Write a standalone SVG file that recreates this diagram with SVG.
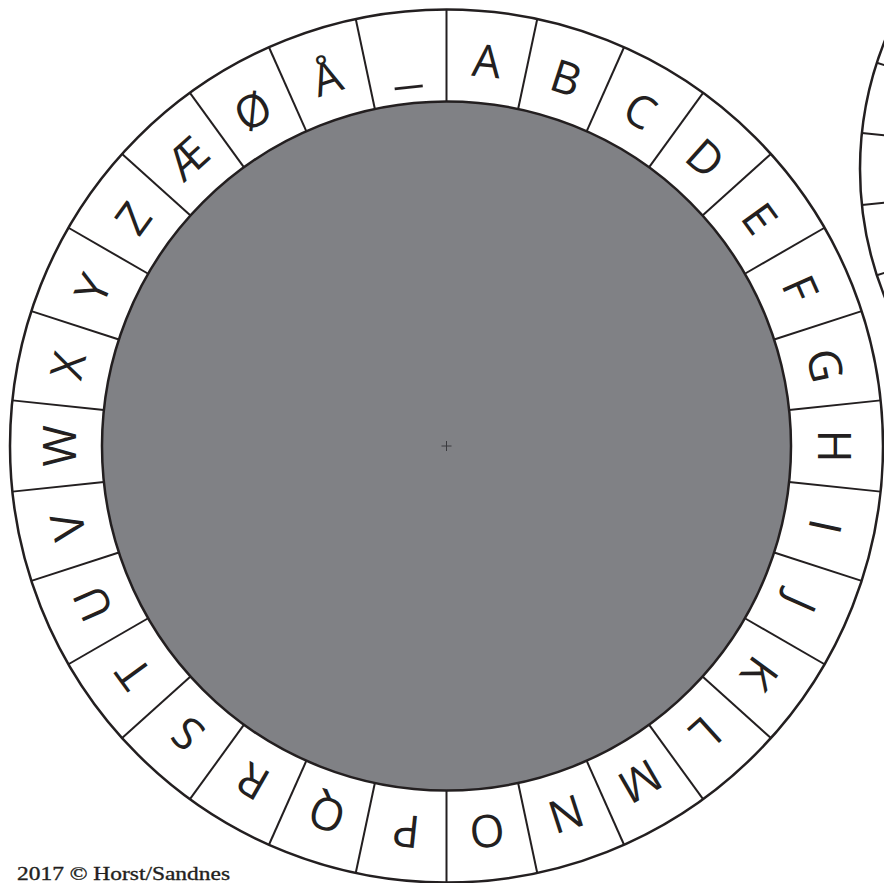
<svg xmlns="http://www.w3.org/2000/svg" width="884" height="883" viewBox="0 0 884 883">
<style>
.ring{fill:#ffffff;stroke:#231f20;stroke-width:2.5}
.disc{fill:#808185;stroke:#231f20;stroke-width:2.5}
.div{stroke:#231f20;stroke-width:2;fill:none}
.lt{font-family:"Open Sans","Noto Sans","DejaVu Sans",sans-serif;font-size:45px;fill:#231f20;text-anchor:middle}
.foot{font-family:"Liberation Serif","DejaVu Serif",serif;font-size:19px;fill:#231f20;stroke:#231f20;stroke-width:0.35}
</style>
<rect width="884" height="883" fill="#ffffff"/>
<g id="wheel2">
<circle cx="1204" cy="169" r="344" class="ring"/>
<g class="div">
<line x1="860" y1="169" x2="950" y2="169" transform="rotate(-6 1204 169)"/>
<line x1="860" y1="169" x2="950" y2="169" transform="rotate(6 1204 169)"/>
<line x1="860" y1="169" x2="950" y2="169" transform="rotate(-18 1204 169)"/>
<line x1="860" y1="169" x2="950" y2="169" transform="rotate(18 1204 169)"/>
</g>
</g>
<g id="wheel">
<circle cx="446.5" cy="446" r="436.5" class="ring"/>
<circle cx="446.5" cy="446" r="344.5" class="disc"/>
<g id="center-mark" stroke="#3a3a3e" stroke-width="1"><line x1="441.5" y1="446" x2="451.5" y2="446"/><line x1="446.5" y1="441" x2="446.5" y2="451"/></g>
</g>
<g id="dividers" class="div">
<line x1="446.5" y1="101.5" x2="446.5" y2="9.5" transform="rotate(0 446.5 446)"/>
<line x1="446.5" y1="101.5" x2="446.5" y2="9.5" transform="rotate(12 446.5 446)"/>
<line x1="446.5" y1="101.5" x2="446.5" y2="9.5" transform="rotate(24 446.5 446)"/>
<line x1="446.5" y1="101.5" x2="446.5" y2="9.5" transform="rotate(36 446.5 446)"/>
<line x1="446.5" y1="101.5" x2="446.5" y2="9.5" transform="rotate(48 446.5 446)"/>
<line x1="446.5" y1="101.5" x2="446.5" y2="9.5" transform="rotate(60 446.5 446)"/>
<line x1="446.5" y1="101.5" x2="446.5" y2="9.5" transform="rotate(72 446.5 446)"/>
<line x1="446.5" y1="101.5" x2="446.5" y2="9.5" transform="rotate(84 446.5 446)"/>
<line x1="446.5" y1="101.5" x2="446.5" y2="9.5" transform="rotate(96 446.5 446)"/>
<line x1="446.5" y1="101.5" x2="446.5" y2="9.5" transform="rotate(108 446.5 446)"/>
<line x1="446.5" y1="101.5" x2="446.5" y2="9.5" transform="rotate(120 446.5 446)"/>
<line x1="446.5" y1="101.5" x2="446.5" y2="9.5" transform="rotate(132 446.5 446)"/>
<line x1="446.5" y1="101.5" x2="446.5" y2="9.5" transform="rotate(144 446.5 446)"/>
<line x1="446.5" y1="101.5" x2="446.5" y2="9.5" transform="rotate(156 446.5 446)"/>
<line x1="446.5" y1="101.5" x2="446.5" y2="9.5" transform="rotate(168 446.5 446)"/>
<line x1="446.5" y1="101.5" x2="446.5" y2="9.5" transform="rotate(180 446.5 446)"/>
<line x1="446.5" y1="101.5" x2="446.5" y2="9.5" transform="rotate(192 446.5 446)"/>
<line x1="446.5" y1="101.5" x2="446.5" y2="9.5" transform="rotate(204 446.5 446)"/>
<line x1="446.5" y1="101.5" x2="446.5" y2="9.5" transform="rotate(216 446.5 446)"/>
<line x1="446.5" y1="101.5" x2="446.5" y2="9.5" transform="rotate(228 446.5 446)"/>
<line x1="446.5" y1="101.5" x2="446.5" y2="9.5" transform="rotate(240 446.5 446)"/>
<line x1="446.5" y1="101.5" x2="446.5" y2="9.5" transform="rotate(252 446.5 446)"/>
<line x1="446.5" y1="101.5" x2="446.5" y2="9.5" transform="rotate(264 446.5 446)"/>
<line x1="446.5" y1="101.5" x2="446.5" y2="9.5" transform="rotate(276 446.5 446)"/>
<line x1="446.5" y1="101.5" x2="446.5" y2="9.5" transform="rotate(288 446.5 446)"/>
<line x1="446.5" y1="101.5" x2="446.5" y2="9.5" transform="rotate(300 446.5 446)"/>
<line x1="446.5" y1="101.5" x2="446.5" y2="9.5" transform="rotate(312 446.5 446)"/>
<line x1="446.5" y1="101.5" x2="446.5" y2="9.5" transform="rotate(324 446.5 446)"/>
<line x1="446.5" y1="101.5" x2="446.5" y2="9.5" transform="rotate(336 446.5 446)"/>
<line x1="446.5" y1="101.5" x2="446.5" y2="9.5" transform="rotate(348 446.5 446)"/>
</g>
<g id="letters" class="lt">
<g id="seg-A"><text x="446.5" y="75" transform="rotate(6 446.5 446)">A</text></g>
<g id="seg-B"><text x="446.5" y="75" transform="rotate(18 446.5 446)">B</text></g>
<g id="seg-C"><text x="446.5" y="75" transform="rotate(30 446.5 446)">C</text></g>
<g id="seg-D"><text x="446.5" y="75" transform="rotate(42 446.5 446)">D</text></g>
<g id="seg-E"><text x="446.5" y="75" transform="rotate(54 446.5 446)">E</text></g>
<g id="seg-F"><text x="446.5" y="75" transform="rotate(66 446.5 446)">F</text></g>
<g id="seg-G"><text x="446.5" y="75" transform="rotate(78 446.5 446)">G</text></g>
<g id="seg-H"><text x="446.5" y="75" transform="rotate(90 446.5 446)">H</text></g>
<g id="seg-I"><text x="446.5" y="75" transform="rotate(102 446.5 446)">I</text></g>
<g id="seg-J"><text x="446.5" y="75" transform="rotate(114 446.5 446)">J</text></g>
<g id="seg-K"><text x="446.5" y="75" transform="rotate(126 446.5 446)">K</text></g>
<g id="seg-L"><text x="446.5" y="75" transform="rotate(138 446.5 446)">L</text></g>
<g id="seg-M"><text x="446.5" y="75" transform="rotate(150 446.5 446)">M</text></g>
<g id="seg-N"><text x="446.5" y="75" transform="rotate(162 446.5 446)">N</text></g>
<g id="seg-O"><text x="446.5" y="75" transform="rotate(174 446.5 446)">O</text></g>
<g id="seg-P"><text x="446.5" y="75" transform="rotate(186 446.5 446)">P</text></g>
<g id="seg-Q"><text x="446.5" y="75" transform="rotate(198 446.5 446)">Q</text></g>
<g id="seg-R"><text x="446.5" y="75" transform="rotate(210 446.5 446)">R</text></g>
<g id="seg-S"><text x="446.5" y="75" transform="rotate(222 446.5 446)">S</text></g>
<g id="seg-T"><text x="446.5" y="75" transform="rotate(234 446.5 446)">T</text></g>
<g id="seg-U"><text x="446.5" y="75" transform="rotate(246 446.5 446)">U</text></g>
<g id="seg-V"><text x="446.5" y="75" transform="rotate(258 446.5 446)">V</text></g>
<g id="seg-W"><text x="446.5" y="75" transform="rotate(270 446.5 446)">W</text></g>
<g id="seg-X"><text x="446.5" y="75" transform="rotate(282 446.5 446)">X</text></g>
<g id="seg-Y"><text x="446.5" y="75" transform="rotate(294 446.5 446)">Y</text></g>
<g id="seg-Z"><text x="446.5" y="75" transform="rotate(306 446.5 446)">Z</text></g>
<g id="seg-AE"><text x="446.5" y="75" transform="rotate(318 446.5 446)">Æ</text></g>
<g id="seg-OE"><text x="446.5" y="75" transform="rotate(330 446.5 446)">Ø</text></g>
<g id="seg-AA"><text x="446.5" y="75" transform="rotate(342 446.5 446)">Å</text></g>
<g id="seg-US"><text x="446.5" y="80" textLength="28" lengthAdjust="spacingAndGlyphs" transform="rotate(354 446.5 446)">_</text></g>
</g>
<text id="credit" class="foot" x="17" y="880" textLength="213" lengthAdjust="spacingAndGlyphs">2017 © Horst/Sandnes</text>
</svg>
